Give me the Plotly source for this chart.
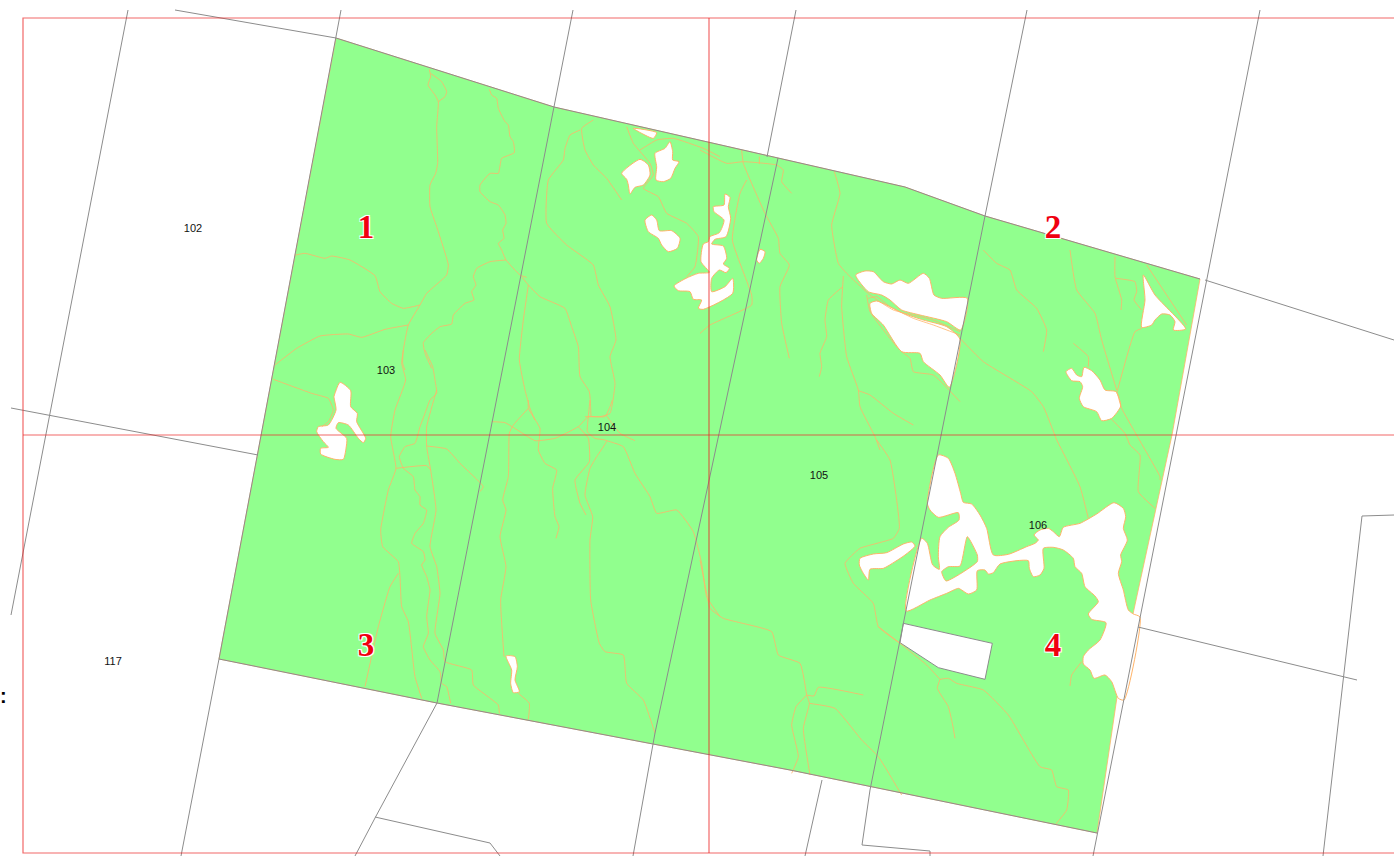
import plotly.graph_objects as go

def crop(ox, oy, pts):
    return [(ox + x / 3, oy + y / 3) for x, y in pts]

GREEN = "#91FF8E"
ORANGE = "#FFB469"
GRAY = "#8c8c8c"
RED = "rgba(235,40,40,0.7)"

FOREST = [(336, 38), (554, 107), (778, 158), (905, 187), (985, 216), (1200, 279), (1172, 435), (1133, 614),
          (1117, 697), (1097, 833), (790, 770), (437, 703), (219, 659)]

HOLES = [
    crop(840, 440, [(295,45),(325,55),(345,100),(362,160),(370,187),(395,192),(420,225),(440,265),(460,345),(505,343),(560,320),(585,310),(595,300),(582,285),(600,270),(625,265),(640,275),(658,290),(670,262),(720,250),(770,222),(822,188),(850,205),(857,230),(850,265),(862,300),(842,345),(845,365),(835,400),(850,450),(865,510),(880,522),(900,531),(852,780),(835,775),(815,725),(795,705),(762,715),(750,690),(730,672),(730,650),(745,630),(780,600),(798,548),(755,538),(745,522),(775,485),(765,468),(735,440),(725,400),(705,380),(700,355),(670,330),(640,322),(610,325),(612,385),(600,405),(580,410),(568,385),(565,362),(480,372),(460,398),(445,402),(435,390),(412,392),(410,450),(385,462),(365,450),(355,445),(320,460),(270,480),(198,513),(245,295),(262,310),(278,375),(298,388),(295,350),(300,290),(325,262),(357,240),(355,218),(295,232),(270,210),(262,190)]),
    crop(840, 440, [(60,355),(100,342),(140,338),(190,312),(215,306),(225,318),(195,345),(165,365),(130,385),(90,388),(85,420),(70,400),(58,375)]),
    crop(600, 110, [(100,55),(125,70),(160,85),(170,68)]),
    crop(600, 110, [(65,190),(120,148),(145,165),(150,195),(130,225),(105,232),(90,252),(85,225),(80,208)]),
    crop(600, 110, [(165,130),(195,115),(210,95),(218,125),(218,150),(237,155),(225,175),(212,205),(190,215),(168,210),(170,170)]),
    crop(600, 110, [(135,330),(155,315),(170,330),(178,362),(215,362),(240,385),(232,415),(205,425),(185,405),(175,385),(145,365)]),
    crop(600, 110, [(375,252),(390,262),(385,290),(392,325),(378,380),(345,388),(335,402),(370,408),(380,445),(370,462),(388,475),(378,488),(358,480),(335,505),(335,545),(375,530),(398,505),(398,550),(310,598),(295,595),(305,570),(280,568),(270,545),(235,542),(222,528),(258,505),(295,490),(328,487),(303,455),(310,402),(325,395),(330,380),(358,368),(372,330),(342,305),(340,290),(372,285)]),
    crop(600, 110, [(480,418),(495,425),(490,445),(478,460),(470,450)]),
    crop(840, 250, [(47,75),(75,63),(100,65),(130,95),(155,102),(180,90),(205,100),(250,70),(268,85),(282,135),(305,145),(382,145),(362,240),(320,215),(240,195),(185,180),(150,150),(125,135),(85,125)]),
    crop(840, 250, [(90,160),(110,153),(190,190),(250,210),(320,230),(360,268),(328,412),(300,375),(250,335),(240,310),(185,305),(130,225),(95,190)]),
    crop(840, 250, [(910,75),(945,135),(1037,237),(1000,240),(1005,215),(990,195),(965,192),(945,210),(935,225),(905,232),(915,150)]),
    crop(840, 250, [(678,365),(695,355),(710,375),(725,380),(732,352),(755,362),(780,390),(795,420),(828,425),(842,468),(815,505),(785,512),(770,485),(730,470),(718,445),(728,410),(720,395),(695,392)]),
    crop(260, 350, [(225,130),(240,97),(272,122),(272,170),(292,190),(290,215),(317,265),(310,278),(295,265),(265,225),(235,218),(228,235),(260,265),(258,295),(250,328),(225,328),(182,312),(182,295),(205,292),(190,275),(170,245),(175,230),(205,225),(228,180),(222,140)]),
    crop(480, 400, [(78,768),(105,770),(112,800),(105,840),(118,875),(100,878),(92,850),(95,810)]),
]
ISLAND = crop(840, 440, [(305,395),(325,380),(360,378),(382,290),(412,345),(412,365),(318,423)])
PARCEL = crop(690, 560, [(640,190),(907,250),(885,358),(745,323),(630,248)])

ROADS = [
    crop(260, 30, [(508,118),(512,140),(504,165),(525,195),(535,215),(530,290),(533,400),(527,430),(510,465),(510,530),(530,590),(565,705),(560,735),(500,790),(480,825),(445,885),(430,960),(428,1000),(435,1020)]),
    crop(260, 30, [(512,130),(545,155),(560,185),(555,200),(535,215)]),
    crop(260, 30, [(688,178),(695,195),(710,205),(715,235),(735,275),(745,285),(750,320),(760,335),(763,368),(725,385),(715,430),(690,430),(660,465),(660,485),(690,515),(715,525),(735,555),(738,580),(728,600),(732,625),(715,640),(725,660),(738,690),(780,735),(800,742)]),
    crop(260, 30, [(738,690),(690,695),(650,715),(640,740),(648,765),(635,785),(642,810),(615,820),(580,855),(575,882),(540,890),(515,910),(490,938),(495,970),(515,1015)]),
    crop(260, 30, [(107,675),(135,670),(195,685),(215,678),(270,690),(345,737),(360,785),(395,820),(430,835),(480,825)]),
    crop(260, 30, [(45,1005),(110,955),(180,918),(265,912),(305,922),(375,898),(445,885)]),
    crop(490, 120, [(95,470),(115,495),(150,530),(225,565),(245,620),(265,680),(270,770),(298,815),(303,890)]),
    crop(490, 120, [(115,495),(100,600),(88,720),(105,810),(120,865),(135,900)]),
    crop(490, 120, [(270,30),(240,45),(225,85),(220,120),(175,180),(170,310),(230,375),(310,435),(325,495),(360,560),(378,660),(360,710),(375,790),(360,880),(330,890),(285,890)]),
    crop(490, 120, [(310,0),(275,25),(285,90),(310,135),(350,175),(395,240)]),
    crop(490, 120, [(410,20),(430,70),(480,130),(490,165),(460,205),(505,230),(530,280),(590,310),(625,350),(615,440),(590,470)]),
    crop(490, 120, [(450,90),(500,60),(550,55),(640,85),(690,110)]),
    crop(260, 350, [(430,0),(425,40),(437,90),(405,180),(392,260),(408,355),(385,420),(362,540),(368,590),(415,635),(420,680),(425,770),(445,815),(465,980),(485,1045)]),
    crop(260, 350, [(495,0),(518,50),(525,90),(530,130),(510,150),(495,190),(480,230),(465,280),(435,290),(418,320),(430,355),(460,380),(465,420),(480,440),(480,465),(500,480),(490,520),(465,550),(455,580),(490,605),(495,630),(485,645),(500,680),(510,720),(505,760),(500,800),(505,850),(490,890),(510,930),(540,965),(545,1000),(560,1010),(572,1060)]),
    crop(260, 350, [(530,120),(500,230),(500,290),(512,360),(528,480),(510,590),(530,650),(540,730),(525,850),(550,900),(555,935),(635,960),(640,1005),(715,1065),(718,1090)]),
    crop(260, 350, [(408,355),(500,347),(512,360)]),
    crop(260, 350, [(500,288),(560,297),(600,340),(670,410),(660,425)]),
    crop(260, 350, [(415,670),(390,710),(355,830),(315,1010)]),
    crop(260, 350, [(40,88),(155,130),(205,145),(220,180),(205,215),(185,230)]),
    crop(480, 400, [(35,65),(75,68),(120,95),(165,122),(225,115),(295,80),(325,50),(375,50),(390,20),(397,0)]),
    crop(480, 400, [(145,25),(100,75),(88,100),(85,230),(68,300),(78,330),(60,410),(78,500),(62,600),(72,770)]),
    crop(480, 400, [(145,0),(145,25),(180,85),(175,150),(195,190),(230,210),(218,265),(225,350),(237,380),(228,415)]),
    crop(480, 400, [(295,80),(325,115),(328,185),(285,240),(300,310),(318,345)]),
    crop(480, 400, [(330,0),(325,50),(322,95),(345,115),(380,122),(350,170),(330,205),(315,285),(338,350),(330,420),(332,600),(358,730),(375,755),(430,765),(440,850),(490,900),(525,1000)]),
    crop(480, 400, [(378,45),(420,100),(465,122)]),
    crop(480, 400, [(380,122),(430,140),(465,220),(510,290),(530,340),(590,330),(640,395),(665,490),(680,590),(720,650)]),
    crop(480, 400, [(115,880),(148,910),(145,958)]),
    crop(690, 560, [(30,0),(50,100),(60,145),(100,175),(245,215),(265,285),(330,310),(350,405)]),
    crop(690, 560, [(350,405),(318,440),(305,495),(325,590),(305,640)]),
    crop(690, 560, [(350,405),(358,430),(340,505),(360,645)]),
    crop(690, 560, [(350,405),(372,408),(385,382),(520,405)]),
    crop(690, 560, [(358,430),(435,445),(515,540),(565,590),(635,705)]),
    crop(690, 560, [(565,200),(630,250),(710,315),(750,358)]),
    crop(690, 560, [(750,358),(742,385),(775,440),(788,495),(795,535)]),
    crop(690, 560, [(750,358),(775,355),(800,370),(880,390),(955,465),(1050,620),(1085,630),(1100,680),(1135,690),(1130,750),(1095,795)]),
    crop(690, 560, [(1175,305),(1145,345),(1140,378)]),
    crop(700, 150, [(0,0),(80,40),(130,35),(230,45),(250,60),(245,95),(275,130)]),
    crop(700, 150, [(125,0),(130,40),(195,190),(235,265),(240,310),(268,345),(240,410),(245,520),(268,625)]),
    crop(700, 150, [(140,90),(120,130),(97,270),(155,435),(155,465),(30,525),(0,550)]),
    crop(700, 150, [(178,20),(178,42)]),
    crop(700, 150, [(403,65),(420,130),(395,225),(415,340),(440,370),(510,435),(580,480),(700,510),(780,545)]),
    crop(700, 150, [(430,378),(425,470),(440,620),(475,720),(480,770),(525,860),(540,900)]),
    crop(700, 150, [(428,410),(385,450),(375,510),(380,560),(360,610),(365,650),(358,680)]),
    crop(700, 150, [(475,722),(510,735),(580,790),(640,825)]),
    crop(700, 150, [(500,435),(510,485),(590,590),(605,605),(630,625),(640,665),(700,675),(780,755)]),
    crop(700, 150, [(505,445),(530,440),(570,470),(640,505),(700,525),(780,555)]),
    crop(840, 250, [(430,0),(470,40),(510,60),(530,120),(590,175),(620,240),(610,305)]),
    crop(840, 250, [(690,0),(710,120),(765,190),(785,270),(830,420)]),
    crop(840, 250, [(825,20),(825,80),(845,150),(843,180)]),
    crop(840, 250, [(828,85),(885,95),(890,125),(882,150),(905,180)]),
    crop(840, 250, [(920,45),(1040,225)]),
    crop(840, 250, [(905,235),(885,245),(830,430)]),
    crop(840, 250, [(700,280),(745,320),(745,350)]),
    crop(840, 250, [(360,265),(430,335),(575,425),(610,470),(650,570)]),
    crop(1040, 260, [(215,478),(255,520),(270,555),(300,585),(295,695),(345,745)]),
    crop(1040, 260, [(232,400),(245,445),(360,650),(360,660)]),
    crop(840, 440, [(110,0),(150,60),(178,265),(160,295),(60,325),(15,370),(40,430),(100,490),(115,560),(180,610)]),
    crop(840, 440, [(650,0),(720,140),(745,235)]),
]

GRID_LINES = [
    [(128,10),(11,615)],
    [(341,10),(219,659),(181,856)],
    [(573,10),(437,703),(375,818),(355,856)],
    [(796,10),(767,157)],
    [(778,158),(709,480),(655,733),(633,856)],
    [(1027,10),(985,216),(870,790),(862,845),(930,851),(930,856)],
    [(822,780),(805,856)],
    [(1260,10),(1093,856)],
    [(1394,515),(1362,516),(1323,856)],
    [(1138,627),(1357,680)],
    [(1205,280),(1394,340)],
    [(175,10),(336,38)],
    [(11,408),(258,455)],
    [(375,817),(490,843),(500,856)],
    [(336,38),(554,107),(778,158),(905,187),(985,216),(1200,279)],
    [(219,659),(437,703),(790,770),(1097,833)],
]
RED_LINES = [[(1394,18),(23,18),(23,853),(1394,853)], [(23,435),(1394,435)], [(709,18),(709,853)]]

PARCEL_LABELS = ["102", "103", "104", "105", "106", "117"]
PARCEL_X = [193, 386, 607, 819, 1038, 113]
PARCEL_Y = [229, 371, 428, 476, 526, 662]
ZONE_LABELS = ["1", "2", "3", "4"]
ZONE_X = [366, 1053, 366, 1053]
ZONE_Y = [230, 230, 648, 648]

def xs(p, close=False):
    p = list(p) + ([p[0]] if close else [])
    return [a for a, _ in p]

def ys(p, close=False):
    p = list(p) + ([p[0]] if close else [])
    return [b for _, b in p]

fig = go.Figure()
fig.add_trace(go.Scatter(x=xs(FOREST, True), y=ys(FOREST, True), mode="lines", fill="toself",
                         fillcolor=GREEN, line=dict(color=ORANGE, width=0.8)))
for h in HOLES:
    fig.add_trace(go.Scatter(x=xs(h, True), y=ys(h, True), mode="lines", fill="toself",
                             fillcolor="white", line=dict(color=ORANGE, width=1, shape="spline", smoothing=0.6)))
fig.add_trace(go.Scatter(x=xs(ISLAND, True), y=ys(ISLAND, True), mode="lines", fill="toself",
                         fillcolor=GREEN, line=dict(color=ORANGE, width=1, shape="spline", smoothing=0.5)))
fig.add_trace(go.Scatter(x=xs(PARCEL, True), y=ys(PARCEL, True), mode="lines", fill="toself",
                         fillcolor="white", line=dict(color=GRAY, width=1)))
for r in ROADS:
    fig.add_trace(go.Scatter(x=xs(r), y=ys(r), mode="lines", line=dict(color=ORANGE, width=0.8, shape="spline", smoothing=0.4)))
for g in GRID_LINES:
    fig.add_trace(go.Scatter(x=xs(g), y=ys(g), mode="lines", line=dict(color=GRAY, width=1)))
for g in RED_LINES:
    fig.add_trace(go.Scatter(x=xs(g), y=ys(g), mode="lines", line=dict(color=RED, width=1.2)))

fig.add_trace(go.Scatter(x=PARCEL_X, y=PARCEL_Y, mode="text", text=PARCEL_LABELS,
                         textfont=dict(family="Liberation Sans", size=11, color="#111111")))
fig.add_trace(go.Scatter(x=ZONE_X, y=ZONE_Y, mode="text", text=ZONE_LABELS,
                         textfont=dict(family="Liberation Serif", size=33, color="#F00010", weight="bold",
                                       shadow="1px 1px 0 white, -1px -1px 0 white, 1px -1px 0 white, -1px 1px 0 white")))
fig.add_trace(go.Scatter(x=[0], y=[698], mode="text", text=[":"], textposition="middle right",
                         textfont=dict(family="Liberation Sans", size=20, color="black", weight="bold")))

fig.update_layout(width=1394, height=856, margin=dict(l=0, r=0, t=0, b=0), showlegend=False,
                  paper_bgcolor="white", plot_bgcolor="white", hovermode=False,
                  xaxis=dict(range=[0, 1394], visible=False, fixedrange=True),
                  yaxis=dict(range=[856, 0], visible=False, fixedrange=True))
fig.write_html("out.html", config={"displayModeBar": False},
               post_script="document.body.style.margin='0';document.body.style.overflow='hidden';")
